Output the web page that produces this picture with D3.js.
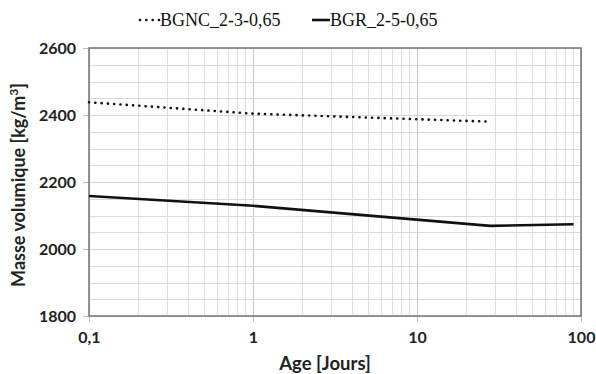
<!DOCTYPE html>
<html><head><meta charset="utf-8">
<script src="https://cdn.jsdelivr.net/npm/d3@7"></script>
<style>body{margin:0;background:#fff}svg{display:block}</style>
</head><body><svg id="c" width="596" height="374"></svg>
<script>
const seriesNames = ["BGNC_2-3-0,65", "BGR_2-5-0,65"];
const bgncAge = [0.1, 1, 28];
const bgncVal = [2438, 2404, 2380];
const bgrAge = [0.1, 1, 28, 90];
const bgrVal = [2158, 2129, 2069, 2074];
const xTicks = [0.1, 1, 10, 100];
const xTickLabels = ["0,1", "1", "10", "100"];
const yTicks = [1800, 2000, 2200, 2400, 2600];

const svg = d3.select("#c");
const L = 89, R = 581, T = 48, B = 316;
const x = d3.scaleLog().domain([0.1, 100]).range([L, R]);
const y = d3.scaleLinear().domain([1800, 2600]).range([B, T]);
const numF = "Lato, 'Open Sans', sans-serif";

// vertical gridlines (minor + decades)
const minorX = [];
for (let d = 0.1; d < 100; d *= 10) for (let k = 1; k <= 9; k++) minorX.push(+(d * k).toPrecision(3));
minorX.push(100);
svg.append("g").selectAll("line").data(minorX).join("line")
  .attr("x1", d => Math.round(x(d)) + 0.5).attr("x2", d => Math.round(x(d)) + 0.5)
  .attr("y1", T).attr("y2", B)
  .attr("stroke", d => xTicks.includes(d) ? "#c8c8c8" : "#dedede").attr("stroke-width", 1);
const minorY = d3.range(1800, 2601, 50);
svg.append("g").selectAll("line").data(minorY).join("line")
  .attr("x1", L).attr("x2", R)
  .attr("y1", d => Math.round(y(d)) + 0.5).attr("y2", d => Math.round(y(d)) + 0.5)
  .attr("stroke", "#d9d9d9").attr("stroke-width", 1);

// axes
const xAxis = svg.append("g").attr("transform", `translate(0,${B})`)
  .call(d3.axisBottom(x).tickValues(xTicks).tickFormat((d, i) => xTickLabels[i]).tickSize(6).tickPadding(10));
const yAxis = svg.append("g").attr("transform", `translate(${L},0)`)
  .call(d3.axisLeft(y).tickValues(yTicks).tickFormat(d3.format("d")).tickSize(6).tickPadding(7));
[xAxis, yAxis].forEach(a => {
  a.select(".domain").remove();
  a.selectAll(".tick line").attr("stroke", "#bfbfbf");
  a.selectAll("text").attr("font-family", numF).attr("font-weight", "bold")
    .attr("font-size", 16).attr("fill", "#222");
});
// plot border
svg.append("rect").attr("x", L).attr("y", T).attr("width", R - L).attr("height", B - T)
  .attr("fill", "none").attr("stroke", "#7a7a7a").attr("stroke-width", 1.6);

// lines
const line = d3.line().x(d => x(d[0])).y(d => y(d[1]));
svg.append("path").datum(bgncAge.map((a, i) => [a, bgncVal[i]]))
  .attr("d", line).attr("fill", "none").attr("stroke", "#111").attr("stroke-width", 2.6)
  .attr("stroke-linecap", "round").attr("stroke-dasharray", "0.1 6.2");
svg.append("path").datum(bgrAge.map((a, i) => [a, bgrVal[i]]))
  .attr("d", line).attr("fill", "none").attr("stroke", "#111").attr("stroke-width", 2.6);

// axis titles
svg.append("text").attr("x", (L + R) / 2 - 10).attr("y", 370).attr("text-anchor", "middle")
  .attr("font-family", numF).attr("font-weight", "bold").attr("font-size", 18.5).attr("fill", "#222")
  .text("Age [Jours]");
const yt = svg.append("text").attr("transform", `translate(25,${(T + B) / 2 + 3}) rotate(-90)`)
  .attr("text-anchor", "middle").attr("font-family", numF).attr("font-weight", "bold")
  .attr("font-size", 18).attr("fill", "#222");
yt.append("tspan").text("Masse volumique [kg/m");
yt.append("tspan").attr("font-size", 12).attr("dy", -7).text("3");
yt.append("tspan").attr("dy", 7).text("]");

// legend
const lg = svg.append("g").attr("font-family", "'Liberation Serif', 'Times New Roman', serif")
  .attr("font-size", 18).attr("fill", "#111");
const legItems = [{x0: 140, x1: 159, tx: 160, dash: true}, {x0: 312, x1: 330, tx: 330, dash: false}];
legItems.forEach((it, i) => {
  const p = lg.append("line").attr("x1", it.x0).attr("x2", it.x1).attr("y1", 20).attr("y2", 20)
    .attr("stroke", "#111").attr("stroke-width", 2.6);
  if (it.dash) p.attr("stroke-linecap", "round").attr("stroke-dasharray", "0.1 6.2");
  lg.append("text").attr("x", it.tx).attr("y", 26).text(seriesNames[i]);
});
</script></body></html>
